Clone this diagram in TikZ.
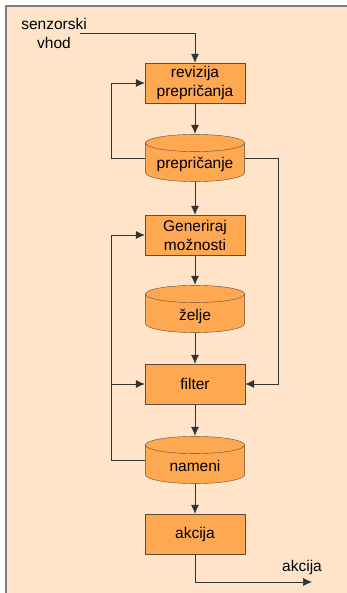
\documentclass[tikz,border=0pt]{standalone}
\usepackage{fontspec}
\setmainfont{Liberation Sans}
\usepackage{tikz}
\usetikzlibrary{arrows.meta,positioning,shapes.geometric}

\definecolor{ozadje}{RGB}{255,228,202}
\definecolor{oranzna}{RGB}{255,168,82}
\definecolor{rob}{RGB}{95,75,55}
\definecolor{crta}{RGB}{50,50,50}
\definecolor{okvir}{RGB}{125,125,125}

\tikzset{
  korak/.style={draw=rob,fill=oranzna,rectangle,minimum width=100pt,minimum height=40pt,
    inner sep=1pt,align=center,font=\fontsize{15.5}{19}\selectfont},
  shramba/.style={rectangle,minimum width=100pt,minimum height=48pt,inner sep=0pt,
    text height=22pt,text depth=0pt,font=\fontsize{15.5}{19}\selectfont,
    path picture={
      \filldraw[draw=rob,fill=oranzna]
        ([xshift=0.4pt,yshift=-9pt]path picture bounding box.north west)
        -- ([xshift=0.4pt,yshift=9.4pt]path picture bounding box.south west)
        arc[start angle=180,end angle=360,x radius=49.6pt,y radius=9pt]
        -- ([xshift=-0.4pt,yshift=-9pt]path picture bounding box.north east)
        arc[start angle=0,end angle=180,x radius=49.6pt,y radius=8.6pt] -- cycle;
      \draw[rob] ([xshift=0.4pt,yshift=-9pt]path picture bounding box.north west)
        arc[start angle=180,end angle=360,x radius=49.6pt,y radius=8.6pt];
    }},
  tok/.style={draw=crta,line width=0.6pt,-{Latex[length=9pt,width=8pt]}},
  besedilo/.style={align=center,font=\fontsize{15.5}{19}\selectfont}
}

\begin{document}
\begin{tikzpicture}
		\useasboundingbox (0,0) rectangle (347pt,-593pt);
		\begin{scope}[x=1pt,y=1pt]
		\fill[white] (0,0) rectangle (347,-593);
		\filldraw[fill=ozadje,draw=okvir,line width=2pt] (6,-6) rectangle (352,-600);
		
		\node[besedilo] (senz) at (54,-33) {senzorski\\vhod};
		\coordinate (vhod) at (80,-33);
		
		\node[korak] (rev) at (195,-83) {revizija\\prepričanja};
		\node[shramba] (prep) at (195,-158) {prepričanje};
		\node[korak] (gen) at (195,-235) {Generiraj\\možnosti};
		\node[shramba] (zelje) at (195,-309) {želje};
		\node[korak] (filt) at (195,-384) {filter};
		\node[shramba] (nam) at (195,-460) {nameni};
		\node[korak] (akc) at (195,-534) {akcija};
		
		\node[besedilo] (izh) at (302,-567) {akcija};
		\coordinate (izhod) at (312,-582);
		
		\draw[tok] (vhod) -| (rev.north);
		\draw[tok] (rev.south) -- (prep.north);
		\draw[tok] (prep.south) -- (gen.north);
		\draw[tok] (gen.south) -- (zelje.north);
		\draw[tok] (zelje.south) -- (filt.north);
		\draw[tok] (filt.south) -- (nam.north);
		\draw[tok] (nam.south) -- (akc.north);
		\draw[tok] (akc.south) |- (izhod);
		
		% povratne zanke
		\draw[tok] (prep.west) -- ++(-34,0) |- (rev.west);
		\draw[tok] (prep.east) -- ++(33,0) |- (filt.east);
		\draw[tok] (nam.west) -- ++(-34,0) coordinate (zanka) |- (gen.west);
		\draw[tok] (zanka) |- (filt.west);
		\end{scope}
\end{tikzpicture}
\end{document}
